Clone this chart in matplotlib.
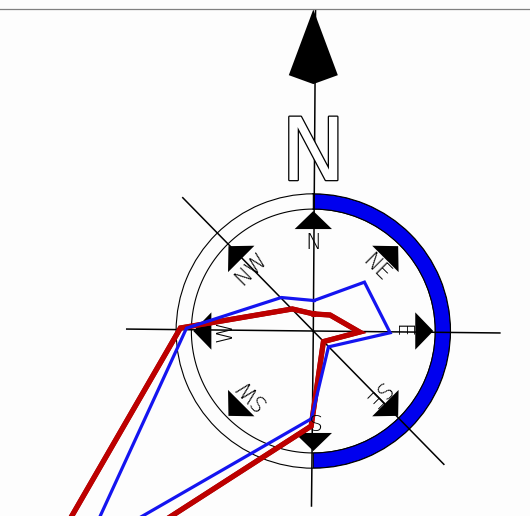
import numpy as np
import matplotlib
matplotlib.use("Agg")
import matplotlib.pyplot as plt
import matplotlib.patheffects as pe
from matplotlib.lines import Line2D

# direcoes da rosa dos ventos (graus, sentido horario a partir do norte)
directions = ["N", "NE", "E", "SE", "S", "SW", "W", "NW"]
angles_deg = [0, 45, 90, 135, 180, 225, 270, 315]

# valores das duas series (anel interno = 10)
red_values = [1.4, 1.9, 3.8, 1.2, 7.8, 34.1, 10.9, 2.5]
blue_values = [2.5, 5.8, 6.3, 1.8, 7.2, 25.9, 10.4, 3.8]

# setor destacado (de N ate S pelo lado leste)
band_start, band_end = 0, 180

# geometria da rosa (em unidades de raio)
R_IN, R_OUT = 10.0, 11.25
TILT = 0.6       # pequena rotacao das linhas de referencia
DATA_ROT = 1.3   # as series aparecem levemente giradas no original


def polar_pt(angle, along, across=0.0):
    # ponto deslocado ao longo / ao lado de uma direcao -> (theta, r)
    th = np.deg2rad(angle) + np.arctan2(across, along)
    return th, np.hypot(along, across)


fig = plt.figure(figsize=(5.3, 5.16), dpi=100)
fig.patch.set_facecolor("#fdfdfd")

ax = fig.add_axes([0.3323, 0.0926, 0.5177, 0.5318], projection="polar")
ax.set_theta_zero_location("N")
ax.set_theta_direction(-1)
ax.set_rlim(0, R_OUT)
ax.set_facecolor("none")
ax.grid(False)
ax.set_xticks([])
ax.set_yticks([])
ax.spines["polar"].set_linewidth(0.8)

# anel interno
t = np.linspace(0, 2 * np.pi, 361)
ax.plot(t, np.full_like(t, R_IN), color="black", lw=0.8, zorder=2)

# faixa azul
ax.bar(np.deg2rad((band_start + band_end) / 2), R_OUT - R_IN,
       width=np.deg2rad(band_end - band_start), bottom=R_IN,
       color="#0000ee", edgecolor="black", lw=0.8, zorder=2)

# linhas de referencia
for a, length in [(90, 15.3), (270, 15.3), (135, 15.3), (315, 15.3), (180, 14.35)]:
    ax.plot([np.deg2rad(a + TILT)] * 2, [0, length], color="black", lw=1.1,
            clip_on=False, zorder=3)
ax.plot([np.deg2rad(0.4)] * 2, [0, 26.3], color="black", lw=1.1,
        clip_on=False, zorder=3)

# setas triangulares e rotulos
for name, a in zip(directions, angles_deg):
    pts = [polar_pt(a, 9.84), polar_pt(a, 8.36, 1.53), polar_pt(a, 8.36, -1.53)]
    ax.fill([p[0] for p in pts], [p[1] for p in pts], color="black",
            lw=0, clip_on=False, zorder=4)
    ax.text(np.deg2rad(a), 7.4, name, rotation=-a, rotation_mode="anchor",
            ha="center", va="center_baseline", fontsize=15.5,
            fontweight="light", color="black", zorder=7)

# series (poligonos fechados)
theta = np.deg2rad(np.array(angles_deg + angles_deg[:1]) + DATA_ROT)
ax.plot(theta, red_values + red_values[:1], color="#bd0000", lw=3.6,
        solid_joinstyle="miter", clip_on=False, zorder=5,
        path_effects=[pe.Stroke(linewidth=3.8, foreground="#a00000"), pe.Normal()])
ax.plot(theta, blue_values + blue_values[:1], color="#1414f0", lw=2.3,
        solid_joinstyle="miter", clip_on=False, zorder=6)

# seta do norte
arrow = [polar_pt(0, 26.37), polar_pt(0, 20.98, 2.01),
         polar_pt(0, 20.25), polar_pt(0, 20.98, -2.01)]
ax.fill([p[0] for p in arrow], [p[1] for p in arrow], color="black",
        lw=0, clip_on=False, zorder=7)

# letra N grande, vazada
ax.text(0, 12.38, "N", ha="center", va="baseline", fontsize=62.5,
        color="white", zorder=8,
        path_effects=[pe.withStroke(linewidth=1.8, foreground="black")])

# linha cinza no topo
fig.add_artist(Line2D([0, 1], [1 - 9.3 / 516] * 2, transform=fig.transFigure,
                      color="#808080", lw=0.9))

fig.savefig("out.png", dpi=100, facecolor=fig.get_facecolor())
